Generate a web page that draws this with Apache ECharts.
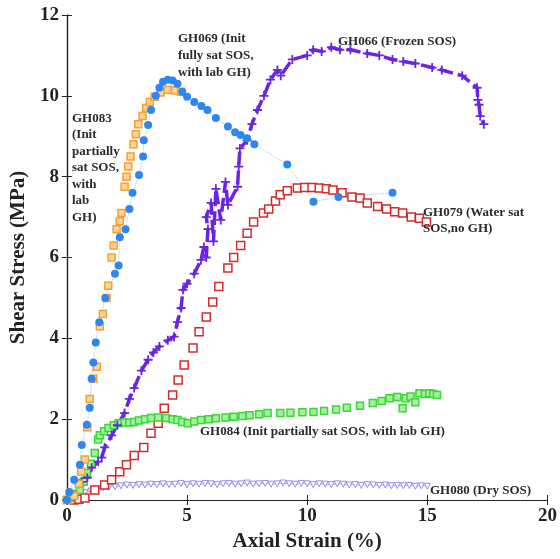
<!DOCTYPE html>
<html>
<head>
<meta charset="utf-8">
<script src="https://cdn.jsdelivr.net/npm/echarts@6/dist/echarts.min.js"></script>
<style>
  html, body { margin: 0; padding: 0; background: #fff; }
  #chart { width: 560px; height: 559px; }
</style>
</head>
<body>
<div id="chart"></div>
<script>
// axis ranges / ticks
var xTicks = [0, 5, 10, 15, 20];
var yTicks = [0, 2, 4, 6, 8, 10, 12];

// GH069 (Init fully sat SOS, with lab GH) - blue circles
var gh069 = [[0,0],[0.1,0.2],[0.3,0.5],[0.54,0.87],[0.62,1.36],[0.83,1.86],[0.95,2.28],[1.03,3.0],[1.1,3.4],
  [1.2,3.9],[1.35,4.4],[1.6,5.0],[2.0,5.6],[2.15,5.8],[2.2,6.5],[2.44,6.7],[2.6,7.2],[2.73,7.6],[3.0,8.04],
  [3.17,8.5],[3.2,8.9],[3.38,9.28],[3.5,9.65],[3.7,10.0],[3.85,10.2],[4.0,10.35],[4.2,10.4],[4.4,10.38],
  [4.6,10.3],[4.8,10.1],[5.0,9.98],[5.3,9.85],[5.6,9.75],[5.85,9.65],[6.2,9.45],[6.7,9.24],[7.0,9.1],
  [7.23,9.03],[7.5,8.95],[7.8,8.8],[9.17,8.3],[10.26,7.38],[11.3,7.5],[13.55,7.6]];

// GH083 (Init partially sat SOS, with lab GH) - orange squares
var gh083 = [[0,0],[0.3,0.1],[0.5,0.4],[0.6,0.7],[0.75,1.0],[0.85,1.8],[0.95,2.5],[1.1,3.0],[1.24,3.3],
  [1.37,4.3],[1.5,4.6],[1.65,5.0],[1.72,5.3],[1.86,6.0],[1.95,6.3],[2.07,6.7],[2.2,6.9],[2.27,7.1],[2.4,7.75],
  [2.48,8.0],[2.55,8.25],[2.65,8.5],[2.77,8.8],[2.87,9.05],[2.97,9.3],[3.15,9.5],[3.3,9.7],[3.45,9.85],
  [3.65,9.98],[3.9,10.08],[4.2,10.15],[4.5,10.13],[4.75,10.1]];

// GH066 (Frozen SOS) - purple crosses
var gh066 = [[0,0],[0.3,0.1],[0.5,0.4],[0.62,0.45],[0.85,0.55],[1.03,0.8],[1.3,0.95],[1.45,1.05],[1.57,1.3],
  [1.86,1.6],[2.1,1.85],[2.4,2.15],[2.6,2.5],[2.8,2.77],[3.1,3.2],[3.38,3.47],[3.6,3.65],[3.85,3.8],[4.2,3.95],
  [4.46,4.04],[4.6,4.4],[4.75,4.75],[4.83,5.2],[5.0,5.35],[5.3,5.6],[5.58,5.94],[5.7,6.26],[5.8,6.0],[5.87,6.7],
  [5.8,7.0],[6.0,7.35],[6.1,6.4],[6.2,7.7],[6.4,6.93],[6.6,7.87],[6.7,7.3],[7.1,7.75],[7.15,8.25],[7.2,8.7],
  [7.5,8.9],[7.7,9.3],[7.93,9.65],[8.2,10.0],[8.47,10.4],[8.76,10.64],[8.9,10.5],[9.38,10.9],[10.0,11.0],
  [10.25,11.14],[10.6,11.1],[11.0,11.2],[11.36,11.14],[11.8,11.14],[12.5,11.05],[13.0,11.0],[13.55,10.9],
  [14.0,10.85],[14.5,10.8],[15.2,10.7],[15.6,10.64],[16.45,10.5],[17.07,10.2],[17.1,9.9],[17.15,9.78],
  [17.2,9.5],[17.35,9.3]];

// GH079 (Water sat SOS, no GH) - red open squares
var gh079 = [[0.3,0],[0.5,0.02],[0.75,0.05],[1.16,0.25],[1.57,0.37],[1.86,0.5],[2.2,0.7],[2.48,0.87],[2.8,1.1],
  [3.2,1.3],[3.5,1.65],[3.8,1.9],[4.05,2.27],[4.4,2.6],[4.63,2.97],[4.88,3.34],[5.25,3.76],[5.5,4.16],
  [5.8,4.53],[6.07,4.9],[6.32,5.28],[6.7,5.74],[6.94,6.0],[7.23,6.3],[7.5,6.6],[7.77,6.88],[8.18,7.1],
  [8.4,7.2],[8.68,7.4],[8.88,7.55],[9.17,7.65],[9.59,7.72],[9.9,7.73],[10.2,7.73],[10.5,7.72],[10.8,7.7],
  [11.07,7.67],[11.45,7.6],[11.86,7.5],[12.2,7.47],[12.5,7.35],[12.93,7.26],[13.3,7.2],[13.64,7.13],
  [13.97,7.1],[14.33,7.0],[14.67,6.97],[14.96,6.88]];

// GH084 (Init partially sat SOS, with lab GH) - green squares
var gh084 = [[0,0],[0.12,0.05],[0.3,0.15],[0.54,0.25],[0.7,0.45],[0.83,0.67],[1.0,0.9],[1.16,1.16],[1.3,1.5],
  [1.37,1.6],[1.55,1.7],[1.73,1.78],[1.95,1.85],[2.15,1.9],[2.4,1.92],[2.6,1.92],[2.8,1.93],[3.0,1.97],
  [3.25,2.0],[3.5,2.03],[3.8,2.04],[4.13,2.03],[4.4,2.0],[4.6,1.98],[4.8,1.93],[5.03,1.9],[5.3,1.94],
  [5.58,1.98],[5.9,2.0],[6.2,2.02],[6.6,2.04],[6.94,2.06],[7.3,2.08],[7.6,2.1],[8.0,2.12],[8.35,2.15],
  [8.88,2.15],[9.3,2.16],[9.8,2.17],[10.26,2.18],[10.7,2.2],[11.2,2.24],[11.65,2.28],[12.2,2.33],
  [12.73,2.4],[13.1,2.45],[13.43,2.52],[13.75,2.55],[13.97,2.27],[14.1,2.52],[14.3,2.56],[14.5,2.42],
  [14.67,2.64],[14.9,2.62],[15.08,2.64],[15.25,2.62],[15.4,2.6]];

// GH080 (Dry SOS) - light purple triangles
var gh080 = [[0,0],[0.25,0.05],[0.5,0.12],[0.75,0.18],[1.0,0.22],[1.25,0.27],[1.5,0.3],[1.75,0.32],[2.0,0.33],
  [2.25,0.35],[2.5,0.37],[2.75,0.36],[3.0,0.38],[3.25,0.37],[3.5,0.39],[3.75,0.38],[4.0,0.4],[4.25,0.38],
  [4.5,0.39],[4.75,0.41],[5.0,0.38],[5.25,0.4],[5.5,0.39],[5.75,0.41],[6.0,0.4],[6.25,0.38],[6.5,0.4],
  [6.75,0.41],[7.0,0.39],[7.25,0.4],[7.5,0.42],[7.75,0.39],[8.0,0.4],[8.25,0.41],[8.5,0.39],[8.75,0.4],
  [9.0,0.42],[9.25,0.4],[9.5,0.39],[9.75,0.41],[10.0,0.4],[10.25,0.38],[10.5,0.4],[10.75,0.39],[11.0,0.38],
  [11.25,0.4],[11.5,0.39],[11.75,0.37],[12.0,0.38],[12.25,0.36],[12.5,0.38],[12.75,0.37],[13.0,0.36],
  [13.25,0.37],[13.5,0.35],[13.75,0.36],[14.0,0.35],[14.25,0.36],[14.5,0.34],[14.75,0.35],[15.0,0.34]];

var serif = '"Liberation Serif", "DejaVu Serif", serif';
var plusPath = 'path://M4,0H6V4H10V6H6V10H4V6H0V4H4Z';

function note(left, top, text, lh) {
  return {
    type: 'text', left: left, top: top, z: 100,
    style: { text: text, font: 'bold 13px ' + serif, fill: '#2b2b2b', lineHeight: lh || 16 }
  };
}

var chart = echarts.init(document.getElementById('chart'));

var axisCommon = {
  axisLine: { show: true, lineStyle: { color: '#222', width: 1.2 } },
  axisTick: { show: true, inside: true, length: 5, lineStyle: { color: '#222' } },
  splitLine: { show: false }
};

var option = {
  backgroundColor: '#fff',
  animation: false,
  grid: { left: 65, right: 11, top: 15, bottom: 59 },
  xAxis: [
    Object.assign({
      type: 'value', min: xTicks[0], max: xTicks[xTicks.length - 1], interval: 5, position: 'bottom',
      name: 'Axial Strain (%)', nameLocation: 'middle', nameGap: 31,
      nameTextStyle: { fontFamily: serif, fontWeight: 'bold', fontSize: 21, color: '#222' },
      axisLabel: { fontFamily: serif, fontWeight: 'bold', fontSize: 19, color: '#222', margin: 7 }
    }, axisCommon),
    Object.assign({
      type: 'value', min: xTicks[0], max: xTicks[xTicks.length - 1], interval: 5, position: 'top',
      axisLabel: { show: false }
    }, axisCommon)
  ],
  yAxis: [
    Object.assign({
      type: 'value', min: yTicks[0], max: yTicks[yTicks.length - 1], interval: 2, position: 'left',
      name: 'Shear Stress (MPa)', nameLocation: 'middle', nameGap: 35,
      nameTextStyle: { fontFamily: serif, fontWeight: 'bold', fontSize: 21, color: '#222' },
      axisLabel: { fontFamily: serif, fontWeight: 'bold', fontSize: 19, color: '#222', margin: 8 }
    }, axisCommon),
    Object.assign({
      type: 'value', min: yTicks[0], max: yTicks[yTicks.length - 1], interval: 2, position: 'right',
      axisLabel: { show: false }
    }, axisCommon)
  ],
  series: [
    {
      name: 'GH080', type: 'line', data: gh080, symbol: 'triangle', symbolRotate: 180, symbolSize: 6,
      itemStyle: { color: '#fff', borderColor: '#9a8de8', borderWidth: 1 },
      lineStyle: { color: '#b4abf0', width: 1 }
    },
    {
      name: 'GH079', type: 'line', data: gh079, symbol: 'rect', symbolSize: 8,
      itemStyle: { color: '#fff', borderColor: '#d22b2b', borderWidth: 1.5 },
      lineStyle: { width: 0 }
    },
    {
      name: 'GH084', type: 'line', data: gh084, symbol: 'rect', symbolSize: 7,
      itemStyle: { color: '#a6f0a0', borderColor: '#3ad63a', borderWidth: 1.5 },
      lineStyle: { width: 0 }
    },
    {
      name: 'GH066', type: 'line', data: gh066, symbol: plusPath, symbolSize: 9,
      itemStyle: { color: '#6a24e6' },
      lineStyle: { color: '#6a24e6', width: 3.5, type: [14, 5] }
    },
    {
      name: 'GH083', type: 'line', data: gh083, symbol: 'rect', symbolSize: 7,
      itemStyle: { color: '#ffd49a', borderColor: '#f5a035', borderWidth: 1.5 },
      lineStyle: { width: 0 }
    },
    {
      name: 'GH069', type: 'line', data: gh069, symbol: 'circle', symbolSize: 8,
      itemStyle: { color: '#2f86ee' },
      lineStyle: { color: '#9cc4f2', width: 1, type: 'dotted' }
    }
  ],
  graphic: [
    note(178, 30, 'GH069 (Init\nfully sat SOS,\nwith lab GH)', 17),
    note(72, 110, 'GH083\n(Init\npartially\nsat SOS,\nwith\nlab\nGH)', 16.5),
    note(338, 34, 'GH066 (Frozen SOS)'),
    note(423, 204, 'GH079 (Water sat\nSOS,no GH)', 16.5),
    note(200, 424, 'GH084 (Init partially sat SOS, with lab GH)'),
    note(430, 483, 'GH080 (Dry SOS)')
  ]
};

chart.setOption(option);
</script>
</body>
</html>
